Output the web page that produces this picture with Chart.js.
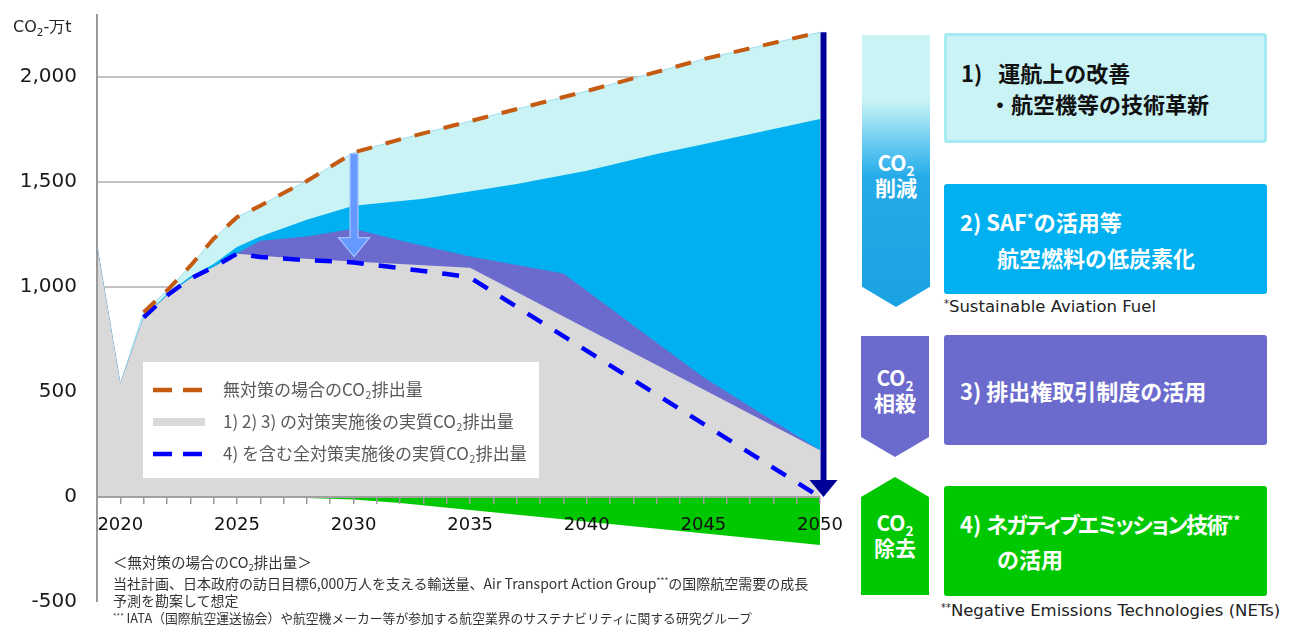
<!DOCTYPE html>
<html>
<head>
<meta charset="utf-8">
<script src="https://cdn.jsdelivr.net/npm/chart.js@4/dist/chart.umd.min.js"></script>
<style>
html,body{margin:0;padding:0;background:#fff;width:1300px;height:626px;overflow:hidden;font-family:'Noto Sans CJK JP','DejaVu Sans',sans-serif;}
#wrap{position:absolute;left:0;top:0;width:850px;height:626px;}
.abs{position:absolute;white-space:nowrap;}
.sb{font-size:0.65em;position:relative;top:0.35em;line-height:0;}
.sp{font-size:0.6em;position:relative;top:-0.55em;line-height:0;}
.arrow{position:absolute;}
.albl{position:absolute;text-align:center;color:#fff;font-weight:700;font-size:21px;line-height:25px;}
.box{position:absolute;left:944px;width:323px;height:110px;box-sizing:border-box;border-radius:3px;}
.bt{position:absolute;white-space:nowrap;font-weight:700;font-size:22px;line-height:30px;}
.fn{position:absolute;white-space:nowrap;color:#333;line-height:18px;}
</style>
</head>
<body>
<div id="wrap"><canvas id="c" width="850" height="626"></canvas></div>

<div class="abs" style="left:13px;top:16px;font-size:16px;line-height:22px;color:#222;font-family:'DejaVu Sans',sans-serif;">CO<span class="sb">2</span>-万t</div>

<div class="fn" style="left:113px;top:553px;font-size:14.5px;">＜無対策の場合のCO<span class="sb">2</span>排出量＞</div>
<div class="fn" style="left:113px;top:574px;font-size:14px;">当社計画、日本政府の訪日目標6,000万人を支える輸送量、Air Transport Action Group<span class="sp">***</span>の国際航空需要の成長</div>
<div class="fn" style="left:113px;top:591px;font-size:14px;">予測を勘案して想定</div>
<div class="fn" style="left:113px;top:609px;font-size:12.8px;"><span class="sp">***</span> IATA（国際航空運送協会）や航空機メーカー等が参加する航空業界のサステナビリティに関する研究グループ</div>

<!-- right panel -->
<div class="arrow" style="left:862px;top:35px;width:68px;height:272px;clip-path:polygon(0 0,100% 0,100% 92.6%,50% 100%,0 92.6%);background:linear-gradient(to bottom,#C9F3F5 0%,#C9F3F5 24%,#5CC6F0 42%,#25ABE8 52%,#1AA2E3 100%);"></div>
<div class="albl" style="left:862px;top:150px;width:68px;">CO<span class="sb">2</span><br>削減</div>

<div class="arrow" style="left:861px;top:336px;width:68px;height:121px;clip-path:polygon(0 0,100% 0,100% 83.5%,50% 100%,0 83.5%);background:#6B6BCD;"></div>
<div class="albl" style="left:861px;top:365px;width:68px;">CO<span class="sb">2</span><br>相殺</div>

<div class="arrow" style="left:861px;top:477px;width:68px;height:118px;clip-path:polygon(50% 0,100% 17%,100% 100%,0 100%,0 17%);background:#00C800;"></div>
<div class="albl" style="left:861px;top:510px;width:68px;">CO<span class="sb">2</span><br>除去</div>

<div class="box" style="top:33px;background:#C9F3F5;border:3px solid #A6EBF2;"></div>
<div class="bt" style="left:961px;top:57px;color:#111;">1)<span style="margin-left:16px">運航上の改善</span></div>
<div class="bt" style="left:989px;top:88px;color:#111;">・航空機等の技術革新</div>

<div class="box" style="top:184px;background:#00B0F0;"></div>
<div class="bt" style="left:960px;top:206px;color:#fff;">2) SAF<span class="sp">*</span>の活用等</div>
<div class="bt" style="left:997px;top:242px;color:#fff;">航空燃料の低炭素化</div>
<div class="abs" style="left:944px;top:297px;font-size:16.5px;line-height:20px;color:#222;font-family:'DejaVu Sans',sans-serif;"><span class="sp">*</span>Sustainable Aviation Fuel</div>

<div class="box" style="top:335px;background:#6B6BCD;"></div>
<div class="bt" style="left:960px;top:375px;color:#fff;">3) 排出権取引制度の活用</div>

<div class="box" style="top:486px;background:#00C800;"></div>
<div class="bt" style="left:960px;top:508px;color:#fff;">4) <span style="font-feature-settings:'palt';letter-spacing:-1.6px;">ネガティブエミッション技術</span><span class="sp">**</span></div>
<div class="bt" style="left:997px;top:543px;color:#fff;">の活用</div>
<div class="abs" style="left:941px;top:601px;font-size:16.5px;line-height:20px;color:#222;font-family:'DejaVu Sans',sans-serif;"><span class="sp">**</span>Negative Emissions Technologies (NETs)</div>

<script>
// ---- data (万t CO2) ----
const historyYears  = [2019, 2020];
const historyValues = [1200, 540];

// 無対策の場合のCO2排出量 (orange dashed)
const noActionYears  = [2021, 2022, 2023, 2024, 2025, 2026, 2027, 2028, 2029, 2030, 2032, 2035, 2040, 2045, 2050];
const noActionValues = [880, 983, 1100, 1230, 1332, 1387, 1448, 1505, 1572, 1640, 1703, 1790, 1933, 2085, 2213];

// top of 2) SAF band
const safYears  = [2021, 2022, 2023, 2024, 2025, 2026, 2028, 2030, 2033, 2037, 2040, 2043, 2045, 2050];
const safValues = [858, 965, 1050, 1110, 1190, 1240, 1320, 1387, 1420, 1491, 1553, 1633, 1680, 1800];

// top of 3) offset band
const offsetYears  = [2021, 2022, 2023, 2024, 2025, 2026, 2028, 2030, 2032, 2035, 2039, 2045, 2050];
const offsetValues = [855, 960, 1040, 1095, 1160, 1220, 1240, 1277, 1222, 1145, 1064, 570, 223];

// 1) 2) 3) の対策実施後の実質CO2排出量 (gray)
const afterYears  = [2021, 2022, 2023, 2024, 2025, 2027, 2030, 2035, 2050];
const afterValues = [855, 960, 1040, 1095, 1158, 1140, 1122, 1092, 223];

// 4) CO2除去 (green, negative)
const removalYears  = [2025, 2028, 2030, 2032, 2050];
const removalValues = [0, -5, -12, -28, -228];

// 4) を含む全対策実施後の実質CO2排出量 (blue dashed)
const netYears  = [2021, 2022, 2023, 2024, 2025, 2026, 2028, 2030, 2032, 2034, 2035, 2050];
const netValues = [855, 960, 1040, 1095, 1158, 1143, 1128, 1117, 1090, 1062, 1045, 0];

// annotation arrows
const reductionArrowYear = 2030, reductionArrowFrom = 1640, reductionArrowTo = 1145;
const totalArrowYear = 2050, totalArrowFrom = 2213, totalArrowTo = 0;

const yTicks = [-500, 0, 500, 1000, 1500, 2000];
const legendLabels = ['無対策の場合のCO₂排出量', '1) 2) 3) の対策実施後の実質CO₂排出量', '4) を含む全対策実施後の実質CO₂排出量'];

// ---- helpers ----
const pts = (ys, vs) => ys.map((x, i) => ({x, y: vs[i]}));
const withHistory = (ys, vs) => pts(historyYears.concat(ys), historyValues.concat(vs));

const C_ORANGE = '#C55A11', C_CYAN = '#C9F3F5', C_SAF = '#00B0F0', C_PURPLE = '#6B6BCD',
      C_GRAY = '#D9D9D9', C_GREEN = '#00C800', C_BLUE = '#0000FF', C_NAVY = '#000099';
const JP = "'Noto Sans CJK JP', 'DejaVu Sans', sans-serif";

function drawSub(ctx, text, x, y, size, color) {
  ctx.fillStyle = color; ctx.textBaseline = 'middle'; ctx.textAlign = 'left';
  const parts = text.split('₂');
  let cx = x;
  parts.forEach((p, i) => {
    ctx.font = size + 'px ' + JP;
    ctx.fillText(p, cx, y); cx += ctx.measureText(p).width;
    if (i < parts.length - 1) {
      ctx.font = (size * 0.62) + 'px ' + JP;
      ctx.fillText('2', cx + 0.5, y + size * 0.3);
      cx += ctx.measureText('2').width + 1;
    }
  });
}
function arrowDown(ctx, cx, y0, y1, shaftW, headW, headL, fill, stroke) {
  ctx.beginPath();
  ctx.moveTo(cx - shaftW / 2, y0);
  ctx.lineTo(cx + shaftW / 2, y0);
  ctx.lineTo(cx + shaftW / 2, y1 - headL);
  ctx.lineTo(cx + headW / 2, y1 - headL);
  ctx.lineTo(cx, y1);
  ctx.lineTo(cx - headW / 2, y1 - headL);
  ctx.lineTo(cx - shaftW / 2, y1 - headL);
  ctx.closePath();
  ctx.fillStyle = fill; ctx.fill();
  if (stroke) { ctx.strokeStyle = stroke; ctx.lineWidth = 1.2; ctx.stroke(); }
}

const overlay = {
  id: 'overlay',
  afterDraw(chart) {
    const {ctx, chartArea: a, scales: {x, y}} = chart;
    ctx.save();
    // y axis line
    ctx.strokeStyle = '#9A9A9A'; ctx.lineWidth = 2;
    ctx.beginPath(); ctx.moveTo(a.left, a.top); ctx.lineTo(a.left, a.bottom); ctx.stroke();
    // arrows
    arrowDown(ctx, x.getPixelForValue(reductionArrowYear) + 0.5, y.getPixelForValue(reductionArrowFrom) + 1,
      y.getPixelForValue(reductionArrowTo), 8, 31, 19, '#6699FF', '#A8C4FF');
    arrowDown(ctx, x.getPixelForValue(totalArrowYear) + 3.5, y.getPixelForValue(totalArrowFrom),
      y.getPixelForValue(totalArrowTo), 6, 28, 17, C_NAVY, null);
    // legend box
    const lx = 143, ly = 362, lw = 396, lh = 116;
    ctx.fillStyle = '#fff'; ctx.fillRect(lx, ly, lw, lh);
    const rows = [390, 422, 454];
    ctx.lineWidth = 4.5; ctx.lineCap = 'butt';
    ctx.setLineDash([19, 11]);
    ctx.strokeStyle = C_ORANGE;
    ctx.beginPath(); ctx.moveTo(153, rows[0]); ctx.lineTo(203, rows[0]); ctx.stroke();
    ctx.strokeStyle = C_BLUE;
    ctx.beginPath(); ctx.moveTo(153, rows[2]); ctx.lineTo(203, rows[2]); ctx.stroke();
    ctx.setLineDash([]);
    ctx.fillStyle = C_GRAY; ctx.fillRect(153, rows[1] - 4, 52, 8);
    legendLabels.forEach((t, i) => drawSub(ctx, t, 223, rows[i], 17, '#595959'));
    ctx.restore();
  }
};

const area = (label, data, color, border) => ({
  label, data, fill: 'origin', backgroundColor: color,
  borderColor: border || 'rgba(0,0,0,0)', borderWidth: 1, pointRadius: 0, tension: 0
});

new Chart(document.getElementById('c'), {
  type: 'line',
  data: {
    datasets: [
      { label: legendLabels[0], data: pts(noActionYears, noActionValues), fill: false,
        borderColor: C_ORANGE, borderWidth: 4, borderDash: [16, 14], pointRadius: 0, tension: 0 },
      { label: legendLabels[2], data: pts(netYears, netValues), fill: false,
        borderColor: C_BLUE, borderWidth: 4.5, borderDash: [17, 15], pointRadius: 0, tension: 0 },
      area('removal', pts(removalYears, removalValues), C_GREEN),
      area(legendLabels[1], withHistory(afterYears, afterValues), C_GRAY),
      area('offset', withHistory(offsetYears, offsetValues), C_PURPLE),
      area('saf', withHistory(safYears, safValues), C_SAF),
      area('efficiency', withHistory(noActionYears, noActionValues), C_CYAN, '#9EDDEB')
    ]
  },
  options: {
    responsive: false, devicePixelRatio: 1, animation: false,
    layout: { padding: { left: 0, right: 30, top: 14, bottom: 24 } },
    plugins: { legend: { display: false }, tooltip: { enabled: false } },
    scales: {
      x: {
        type: 'linear', min: 2019, max: 2050, position: { y: 0 },
        afterFit: s => { s.height = 0; s.paddingLeft = 0; s.paddingRight = 0; s.paddingTop = 0; s.paddingBottom = 0; },
        grid: { drawOnChartArea: false, drawTicks: true, tickLength: 6, color: '#9A9A9A', lineWidth: 1.5, z: 1 },
        border: { display: true, color: '#A0A0A0', width: 2, z: 1 },
        ticks: { stepSize: 1, autoSkip: false, maxRotation: 0, padding: 12, color: '#111', z: 1,
          font: { family: 'DejaVu Sans', size: 18 },
          callback: v => (v % 5 === 0 ? String(v) : '') }
      },
      y: {
        type: 'linear', min: -500, max: 2300,
        afterFit: s => { s.width = 97; s.paddingTop = 0; s.paddingBottom = 0; },
        afterBuildTicks: s => { s.ticks = yTicks.map(v => ({value: v})); },
        grid: { drawTicks: false, color: c => (c.tick && c.tick.value > 0 ? '#C4C4C4' : 'rgba(0,0,0,0)'), lineWidth: 2 },
        border: { display: false },
        ticks: { padding: 20, color: '#1A1A1A', font: { family: 'DejaVu Sans', size: 20 },
          callback: v => v.toLocaleString('en-US') }
      }
    }
  },
  plugins: [overlay]
});
</script>
</body>
</html>
